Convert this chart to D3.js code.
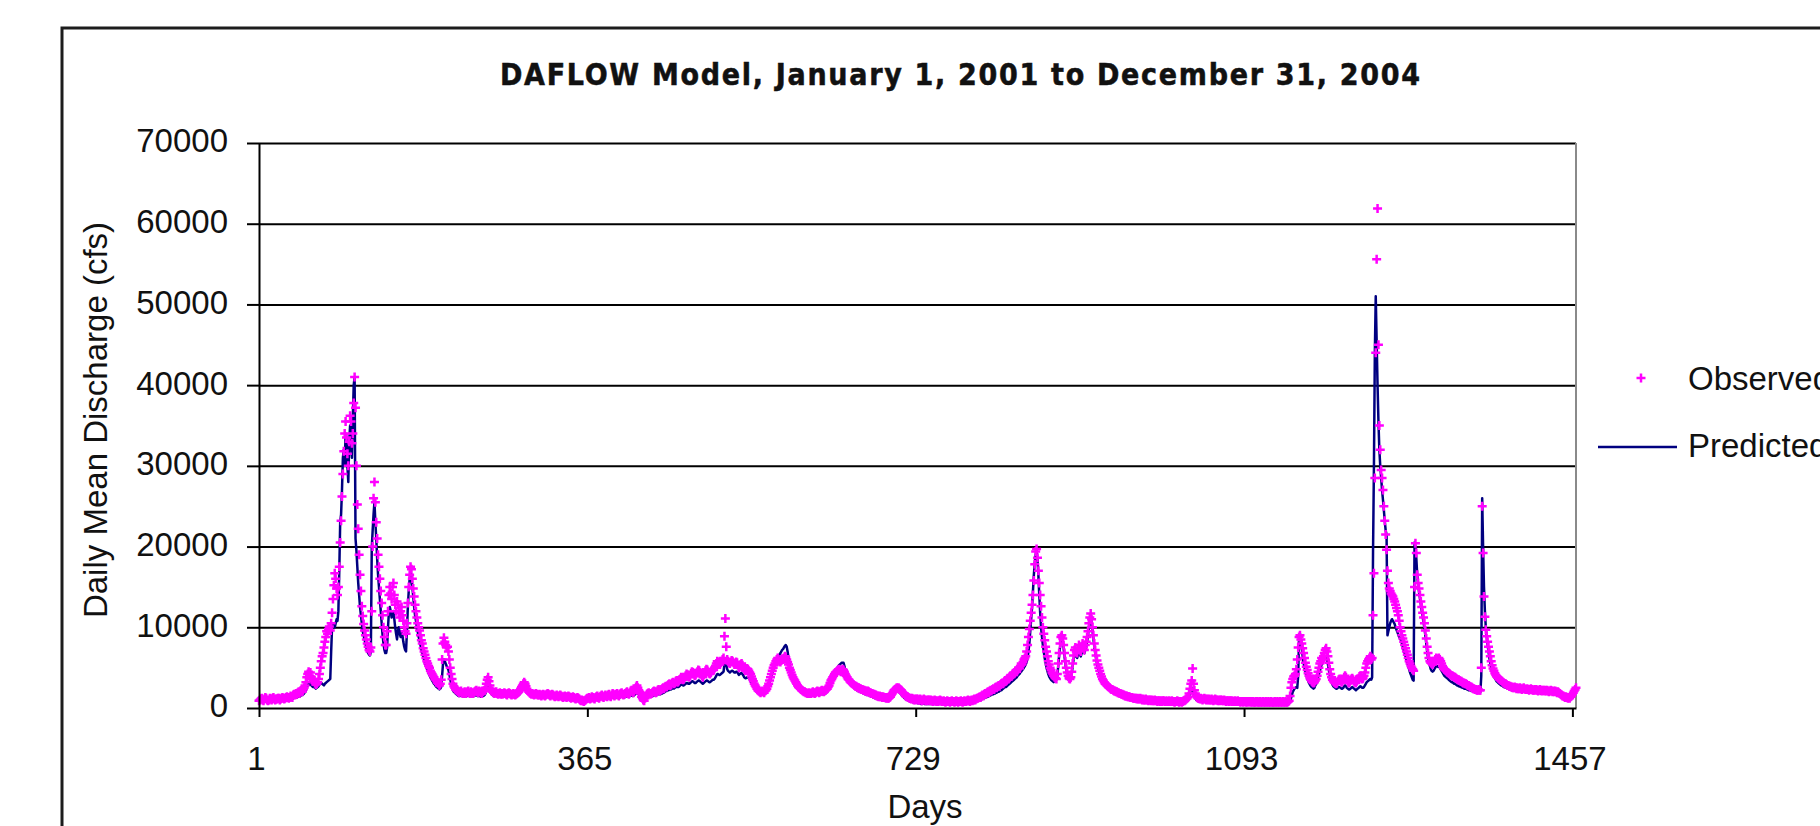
<!DOCTYPE html>
<html>
<head>
<meta charset="utf-8">
<script src="https://cdn.jsdelivr.net/npm/d3@7"></script>
<style>
  html, body { margin: 0; padding: 0; background: #fff; overflow: hidden; }
  svg { display: block; }
  text { font-family: "Liberation Sans", Arial, sans-serif; fill: #111; }
  .title { font-family: "Liberation Sans Narrow", "Arial Narrow", "DejaVu Sans Condensed", sans-serif; font-stretch: condensed; }
</style>
</head>
<body>
<svg id="chart" width="1820" height="826"></svg>
<script>
// ---- Data -------------------------------------------------------------
// Daily mean discharge, stored in hundreds of cfs (12 = 1,200 cfs).
const CFS_PER_UNIT = 100;

const chartTitle = "DAFLOW Model, January 1, 2001 to December 31, 2004";
const xAxisTitle = "Days";
const yAxisTitle = "Daily Mean Discharge (cfs)";
const seriesNames = ["Observed", "Predicted"];
const xTickValues = [1, 365, 729, 1093, 1457];
const yTickValues = [0, 10000, 20000, 30000, 40000, 50000, 60000, 70000];
const dayRange = [1, 1461];
const yearStartDays = [1, 366, 731, 1096];

// Observed, day 1 - 365
const observed2001 = [
  9,10,11,12,10,9,11,13,12,10,9,10,12,11,10,12,13,11,10,11,
  11,12,12,10,11,12,13,12,11,12,13,14,13,12,13,15,14,13,16,17,
  16,18,17,19,20,18,21,22,20,23,25,28,32,38,42,45,40,44,38,36,
  33,35,31,29,30,32,36,42,50,58,64,68,75,82,88,95,92,98,101,96,
  105,118,135,152,167,160,148,140,150,175,205,232,262,290,318,340,355,335,315,300,
  330,362,355,328,340,378,410,372,300,252,222,190,165,145,126,114,104,96,90,85,80,76,72,70,
  75,120,200,260,280,255,230,210,190,175,160,145,130,115,100,88,78,
  78,95,120,140,150,142,135,150,155,140,128,120,132,128,118,112,120,125,115,108,100,95,92,
  105,130,150,165,175,172,160,148,138,128,120,112,105,100,96,90,84,80,74,70,66,62,58,55,52,50,46,44,42,40,38,36,35,33,31,30,28,30,
  35,60,80,87,82,78,75,76,70,60,50,42,36,30,27,25,23,22,
  21,20,19,20,21,19,18,19,20,18,19,20,21,19,18,20,19,18,19,20,21,22,20,19,21,20,19,18,20,21,
  22,25,30,35,38,33,28,24,21,20,19,18,19,20,18,17,18,19,17,18,
  17,18,19,18,17,16,18,19,18,17,16,17,18,17,16,17,18,19,20,22,
  24,26,28,30,32,30,27,24,22,20,19,18,17,18,17,16,17,18,17,16,
  16,17,16,15,16,17,16,15,16,17,18,17,16,15,16,17,16,15,14,15,
  16,15,14,15,16,15,14,13,14,15,14,13,14,15,14,13,12,13,14,13,
  12,11,12,13,12,11,10,9,10,9,8,9,10,11,12
];
// Observed, day 366 - 730
const observed2002 = [
  12,13,11,12,14,13,12,11,13,14,15,13,12,14,15,16,14,13,15,16,
  15,14,16,17,15,14,16,18,17,15,16,17,18,16,15,17,18,19,17,16,
  17,18,19,20,18,17,19,21,22,20,19,21,24,26,28,25,22,20,18,14,
  12,10,9,12,15,17,18,19,18,17,18,19,20,21,20,19,20,22,23,21,
  22,23,24,25,24,26,27,26,28,29,30,28,29,31,32,30,31,33,34,32,
  33,35,36,38,37,35,36,38,40,42,41,39,38,40,43,45,44,42,40,41,
  43,45,47,46,44,42,40,38,41,44,46,48,47,45,43,42,44,46,48,47,
  50,52,55,58,57,55,54,56,58,60,62,89,111,76,60,
  58,56,55,57,59,58,56,54,55,57,56,53,50,52,54,55,53,50,48,46,47,49,48,46,44,
  42,39,36,33,30,28,26,24,22,21,20,19,20,21,20,19,21,22,24,27,30,34,
  38,42,46,50,53,55,58,60,62,60,58,57,59,61,60,62,64,63,60,
  57,54,50,47,44,41,38,36,34,32,30,28,26,25,24,23,22,21,20,20,19,19,18,18,19,18,
  18,19,20,19,18,19,20,21,20,19,20,21,22,21,20,21,22,23,
  24,26,28,31,34,36,38,40,42,44,45,46,47,48,46,45,47,48,
  47,45,42,40,38,36,35,33,32,31,30,29,28,27,27,26,25,25,24,24,23,23,22,22,21,21,20,21,20,19,19,18,
  18,17,17,16,16,15,15,14,15,14,14,13,14,13,13,12,13,12,12,13,14,16,18,20,22,23,24,25,24,25,24,
  23,22,20,19,18,16,15,14,14,13,12,12,11,12,11,10,11,10,11
];
// Observed, day 731 - 1095
const observed2003 = [
  11,10,10,11,10,9,10,11,10,9,10,9,10,10,9,10,9,8,9,10,
  9,8,9,8,9,10,9,8,8,9,8,7,8,9,8,8,7,8,9,8,
  8,7,8,9,8,7,8,8,9,8,7,8,9,8,8,9,10,9,8,9,10,9,10,11,10,11,12,
  12,13,14,13,15,16,15,17,18,17,19,20,19,21,22,21,23,24,23,25,26,25,27,28,27,
  29,30,31,30,32,34,33,35,37,36,38,40,39,41,43,42,44,46,45,48,50,49,52,55,54,57,60,62,64,
  70,78,88,98,108,118,128,140,158,178,194,197,186,170,155,140,126,112,100,
  92,84,76,70,64,58,54,50,47,44,42,40,38,37,36,
  42,55,68,80,88,90,86,78,68,58,50,44,40,37,36,38,45,
  55,65,72,75,70,68,74,78,72,70,76,80,75,72,78,82,88,95,105,112,117,
  110,100,90,80,72,65,59,54,50,46,42,39,36,34,32,30,29,28,27,26,25,24,23,23,22,21,21,20,
  20,19,19,18,18,17,17,16,16,15,15,15,14,14,14,13,13,13,12,12,
  12,12,11,12,11,11,12,11,10,11,10,10,11,10,10,9,10,10,9,10,
  9,9,10,9,9,8,9,9,8,9,8,9,9,8,8,9,8,8,9,8,
  8,9,8,8,7,8,8,9,8,7,8,8,7,8,9,9,10,11,
  12,14,18,24,30,34,49,30,22,18,15,13,12,
  12,11,12,11,10,11,12,11,10,11,10,11,10,10,11,10,9,10,11,10,
  10,9,10,9,10,10,9,9,10,9,8,9,9,8,9,9,8,9,8,8,
  9,8,8,9,8,8,7,8,8,7,8,8,7
];
// Observed, day 1096 - 1461
const observed2004 = [
  8,7,8,8,7,8,7,8,7,7,8,7,8,7,7,8,7,7,8,7,
  7,8,7,7,8,7,7,8,7,7,7,8,7,7,8,7,7,8,7,7,8,7,7,8,7,7,8,9,
  15,25,32,36,39,40,42,48,60,75,88,90,
  85,80,74,68,62,56,51,47,43,40,37,35,33,32,31,32,34,
  36,40,45,50,55,58,62,60,64,68,72,74,70,64,56,48,42,38,35,33,32,31,30,
  31,33,35,36,34,32,33,35,38,40,38,35,33,31,32,34,36,37,35,33,
  32,31,33,35,37,39,40,38,36,37,40,44,50,55,58,60,62,64,60,62,
  115,167,285,440,556,619,450,350,320,295,285,270,250,232,215,196,
  170,155,148,145,142,140,138,135,132,128,124,120,115,108,100,
  95,90,86,82,78,74,70,66,62,58,55,52,50,48,46,
  150,204,192,165,155,148,140,132,125,118,112,105,96,86,76,68,62,58,56,
  55,54,56,58,60,62,61,60,62,60,58,55,52,50,48,47,46,45,44,43,
  42,41,40,40,39,38,38,37,36,35,35,34,33,33,32,31,31,30,30,29,
  28,28,27,26,26,25,24,24,23,23,22,22,23,22,22,
  50,250,192,138,113,97,89,82,76,70,64,58,53,49,46,43,41,39,38,37,
  36,35,34,33,32,31,30,30,29,28,28,27,27,26,26,25,25,26,25,24,
  25,24,24,25,24,23,24,25,24,23,23,24,23,22,23,24,23,22,22,23,
  22,23,22,21,22,23,22,21,22,22,21,22,21,22,21,20,21,22,21,20,
  21,20,21,20,19,20,19,18,17,16,15,15,14,13,14,13,12,13,12,14,
  15,17,19,21,23,25
];

// Predicted, day 1 - 365
const predicted2001 = [
  7,7,8,8,7,7,8,9,8,8,7,7,8,8,7,8,9,8,8,8,
  8,9,9,8,8,9,10,10,9,9,10,11,10,10,11,12,12,11,12,14,
  13,14,13,14,15,14,15,16,16,17,18,20,22,25,28,30,29,31,28,27,
  26,27,25,24,25,26,27,29,30,31,30,29,28,30,31,32,33,34,35,36,
  70,100,103,102,100,105,110,108,120,170,230,240,270,310,320,300,340,335,300,280,
  330,350,330,310,360,400,410,210,195,175,155,140,125,115,105,95,90,85,80,75,70,68,66,65,
  70,198,220,240,255,230,210,185,165,150,135,120,105,90,80,72,68,
  68,75,100,118,125,120,112,118,120,110,100,92,85,95,100,92,88,95,90,82,76,72,70,
  95,125,145,160,168,165,150,138,125,115,108,100,94,88,84,78,72,68,64,60,56,52,49,46,43,41,38,36,34,32,30,29,27,26,25,24,23,24,
  26,40,55,60,58,55,52,50,47,42,36,30,26,22,20,19,18,17,
  16,15,15,15,16,15,14,15,15,14,15,15,16,15,14,15,15,14,15,15,16,16,15,15,15,15,14,14,15,15,
  16,18,22,25,26,24,21,19,17,16,15,15,15,16,15,14,15,15,14,15,
  14,15,15,15,14,14,15,15,15,14,14,14,15,14,14,14,15,15,16,17,
  19,21,23,24,25,24,22,20,18,17,16,15,15,15,14,14,14,15,14,14,
  13,14,13,13,13,14,13,13,13,14,14,14,13,13,13,14,13,13,12,12,
  13,12,12,12,13,12,12,11,11,12,11,11,11,12,11,11,10,10,11,10,
  10,9,9,10,9,9,8,8,8,7,7,7,8,8,9
];
// Predicted, day 366 - 730
const predicted2002 = [
  9,10,9,9,10,10,9,9,10,10,11,10,10,11,11,12,11,11,12,12,
  12,12,12,13,12,12,13,13,13,12,13,13,14,13,13,13,14,14,14,13,
  13,14,14,15,14,14,15,15,16,15,15,16,17,18,19,18,17,16,15,13,
  11,10,10,11,12,13,14,14,14,14,14,15,15,16,16,15,16,17,17,17,
  17,18,18,19,19,20,21,21,22,22,23,23,23,24,25,24,25,26,26,26,
  26,27,28,29,29,28,28,29,30,31,31,30,30,31,32,33,33,32,31,31,
  32,33,34,34,33,32,31,30,31,32,33,34,34,33,32,32,33,34,35,35,
  36,38,40,42,42,41,41,42,43,44,45,55,60,55,48,
  46,45,44,45,46,46,45,44,44,45,45,43,41,42,43,43,42,40,38,37,37,38,38,37,35,
  33,31,29,27,25,23,21,20,19,18,17,17,17,18,18,17,18,19,21,24,27,31,
  35,39,43,47,50,53,56,59,62,64,66,68,70,72,73,75,77,78,76,
  70,62,55,50,45,41,38,35,33,31,29,27,25,23,22,21,20,19,18,17,17,16,16,15,16,16,
  15,16,16,16,15,16,16,17,17,16,17,17,18,17,17,18,18,19,
  20,22,24,27,30,33,36,39,42,45,47,49,51,53,54,55,56,56,
  56,52,46,42,38,35,33,31,29,28,27,26,25,24,23,22,21,21,20,20,19,19,18,18,17,17,16,16,16,15,15,14,
  14,13,13,12,12,12,11,11,11,11,10,10,10,10,10,9,10,9,9,10,11,13,15,17,19,20,21,21,20,20,19,
  18,17,15,14,13,12,11,10,10,9,9,8,8,8,7,7,7,7,7
];
// Predicted, day 731 - 1095
const predicted2003 = [
  6,6,6,6,5,5,6,6,5,5,5,5,5,5,5,5,5,5,5,5,
  5,6,5,5,6,5,5,5,6,5,5,5,5,6,5,5,5,5,5,6,
  5,5,5,5,5,5,5,5,5,6,6,6,6,6,6,6,7,7,7,7,7,7,8,8,8,8,9,
  9,9,10,10,11,11,12,12,13,13,14,14,15,15,16,16,17,17,18,18,19,19,20,20,21,
  22,22,23,24,25,26,26,27,28,29,30,31,32,33,34,35,36,37,38,40,41,42,44,45,47,48,50,52,54,
  57,62,70,80,95,110,125,145,165,180,190,195,185,165,140,118,100,88,78,
  70,62,56,50,46,42,39,37,35,34,33,32,33,34,35,
  40,52,65,75,82,85,82,74,64,54,46,40,36,34,33,35,42,
  52,60,66,68,64,62,66,70,66,64,68,72,70,68,72,76,82,90,100,108,114,
  106,96,86,76,68,61,55,50,46,42,39,36,33,31,29,27,26,25,24,23,22,21,20,20,19,18,18,17,
  17,16,16,15,15,14,14,14,13,13,13,12,12,12,11,11,11,11,10,10,
  10,10,10,10,9,9,9,9,9,9,9,8,8,8,8,8,8,8,8,8,
  8,7,7,7,7,7,7,7,7,7,7,7,7,6,6,6,6,6,6,6,
  6,6,6,6,6,6,6,6,6,6,6,6,6,6,6,6,7,8,
  9,11,14,18,22,25,23,19,15,12,10,9,9,
  8,8,8,8,8,8,8,8,7,7,7,7,7,7,7,7,7,7,7,7,
  7,7,7,6,6,6,6,6,6,6,6,6,6,6,6,6,6,6,6,6,
  6,6,6,6,6,6,6,6,5,5,5,5,5
];
// Predicted, day 1096 - 1461
const predicted2004 = [
  5,5,5,5,5,5,5,5,5,5,5,5,5,5,5,5,5,5,5,5,
  5,5,5,5,5,5,5,5,5,5,5,5,5,5,5,5,5,5,5,5,5,5,5,5,5,5,5,6,
  8,12,16,20,22,24,25,26,25,40,88,92,
  84,74,64,56,50,45,41,37,34,31,29,27,26,25,24,25,28,
  30,34,38,42,46,50,54,56,58,60,62,64,60,54,47,41,36,32,29,27,26,25,24,
  24,25,26,26,25,24,24,25,27,28,27,25,24,23,23,24,25,26,25,24,
  23,22,23,24,25,26,27,26,25,25,26,28,30,32,33,34,35,36,35,38,
  193,300,440,510,455,400,355,320,300,285,270,258,245,232,220,215,
  90,95,100,105,108,110,108,106,104,100,97,94,91,88,86,
  84,80,76,72,68,64,60,56,52,48,44,41,38,35,34,
  205,200,185,165,152,144,136,128,120,113,106,99,90,80,70,62,56,52,48,
  46,45,46,48,50,52,52,51,52,50,48,46,44,42,40,39,38,37,36,35,
  34,33,32,32,31,30,30,29,28,28,27,27,26,26,25,25,24,24,24,23,
  23,22,22,22,21,21,21,20,20,20,20,20,20,20,20,
  40,260,200,150,120,100,88,78,70,62,56,50,46,42,39,37,35,33,32,31,
  30,29,28,28,27,26,26,25,25,24,24,23,23,23,22,22,22,22,22,21,
  21,21,21,21,21,20,20,20,20,20,20,20,20,19,19,19,19,19,19,19,
  19,19,19,19,19,19,18,18,18,18,18,18,18,18,18,18,18,18,18,18,
  18,18,18,17,17,17,16,15,14,13,12,12,11,11,11,10,10,10,10,11,
  12,14,16,18,20,22
];

// ---- Build day-indexed records ----------------------------------------
function toDaily(yearArrays) {
  const out = [];
  yearArrays.forEach((vals, i) => {
    vals.forEach((v, j) => out.push({ day: yearStartDays[i] + j, q: v * CFS_PER_UNIT }));
  });
  return out;
}
const observed = toDaily([observed2001, observed2002, observed2003, observed2004]);
const predicted = toDaily([predicted2001, predicted2002, predicted2003, predicted2004]);

// ---- Layout -------------------------------------------------------------
const plot = { left: 259, right: 1576, top: 143, bottom: 708 };
const svg = d3.select("#chart");

const x = d3.scaleLinear().domain(dayRange).range([plot.left, plot.right]);
const y = d3.scaleLinear().domain([0, 70000]).range([plot.bottom, plot.top]);

const observedColor = "#ff00ff";
const predictedColor = "#000080";
const labelSize = 33;

// Chart frame
svg.append("rect")
  .attr("x", 62).attr("y", 28)
  .attr("width", 1900).attr("height", 1000)
  .attr("fill", "#fff")
  .attr("stroke", "#1c1c1c")
  .attr("stroke-width", 3);

// Title
svg.append("text")
  .attr("class", "title")
  .attr("x", 960).attr("y", 85)
  .attr("text-anchor", "middle")
  .attr("font-weight", "bold")
  .attr("font-size", 30)
  .attr("stroke", "#111")
  .attr("stroke-width", 0.5)
  .attr("textLength", 920)
  .attr("lengthAdjust", "spacing")
  .text(chartTitle);

// Horizontal gridlines
const grid = svg.append("g")
  .attr("transform", `translate(${plot.left},0)`)
  .call(d3.axisLeft(y)
    .tickValues(yTickValues.filter(v => v > 0))
    .tickSize(-(plot.right - plot.left))
    .tickFormat(""));
grid.select(".domain").remove();
grid.selectAll(".tick line").attr("stroke", "#000").attr("stroke-width", 2);

// Right edge of the plot area
svg.append("line")
  .attr("x1", x(dayRange[1])).attr("x2", x(dayRange[1]))
  .attr("y1", y(70000)).attr("y2", y(0))
  .attr("stroke", "#8a8a8a").attr("stroke-width", 2);

// Predicted discharge line
const line = d3.line().x(d => x(d.day)).y(d => y(d.q));
svg.append("path")
  .datum(predicted)
  .attr("d", line)
  .attr("fill", "none")
  .attr("stroke", predictedColor)
  .attr("stroke-width", 2.5)
  .attr("stroke-linejoin", "round");

// Observed discharge markers (small plus signs)
const plusPath = "M-4.5,0H4.5M0,-4.5V4.5";
svg.append("g")
  .selectAll("path")
  .data(observed)
  .join("path")
  .attr("transform", d => `translate(${x(d.day)},${y(d.q)})`)
  .attr("d", plusPath)
  .attr("stroke", observedColor)
  .attr("stroke-width", 2.5)
  .attr("fill", "none");

// Y axis
const yAxis = svg.append("g")
  .attr("transform", `translate(${plot.left},0)`)
  .call(d3.axisLeft(y)
    .tickValues(yTickValues)
    .tickSize(12)
    .tickSizeOuter(0)
    .tickPadding(19)
    .tickFormat(d3.format("d")));
yAxis.attr("font-family", null).attr("font-size", null);
yAxis.select(".domain").attr("stroke", "#000").attr("stroke-width", 2);
yAxis.selectAll(".tick line").attr("stroke", "#000").attr("stroke-width", 2);
yAxis.selectAll(".tick text").attr("font-size", labelSize).attr("dy", "0.27em");

// X axis
const xAxis = svg.append("g")
  .attr("transform", `translate(0,${plot.bottom})`)
  .call(d3.axisBottom(x)
    .tickValues(xTickValues)
    .tickSize(9)
    .tickSizeOuter(0)
    .tickPadding(30)
    .tickFormat(d3.format("d")));
xAxis.attr("font-family", null).attr("font-size", null);
xAxis.select(".domain").attr("stroke", "#000").attr("stroke-width", 2);
xAxis.selectAll(".tick line").attr("stroke", "#000").attr("stroke-width", 2);
xAxis.selectAll(".tick text").attr("font-size", labelSize).attr("dx", -3);

// Axis titles
svg.append("text")
  .attr("x", 925).attr("y", 818)
  .attr("text-anchor", "middle")
  .attr("font-size", labelSize)
  .text(xAxisTitle);

svg.append("text")
  .attr("transform", "translate(107,420) rotate(-90)")
  .attr("text-anchor", "middle")
  .attr("font-size", labelSize)
  .text(yAxisTitle);

// Legend (runs past the right edge of the page)
const legend = svg.append("g");
legend.append("path")
  .attr("transform", "translate(1641,378)")
  .attr("d", plusPath)
  .attr("stroke", observedColor)
  .attr("stroke-width", 2.5)
  .attr("fill", "none");
legend.append("text")
  .attr("x", 1688).attr("y", 390)
  .attr("font-size", labelSize)
  .text(seriesNames[0]);
legend.append("line")
  .attr("x1", 1598).attr("x2", 1677)
  .attr("y1", 447).attr("y2", 447)
  .attr("stroke", predictedColor)
  .attr("stroke-width", 2.5);
legend.append("text")
  .attr("x", 1688).attr("y", 457)
  .attr("font-size", labelSize)
  .text(seriesNames[1]);
</script>
</body>
</html>
